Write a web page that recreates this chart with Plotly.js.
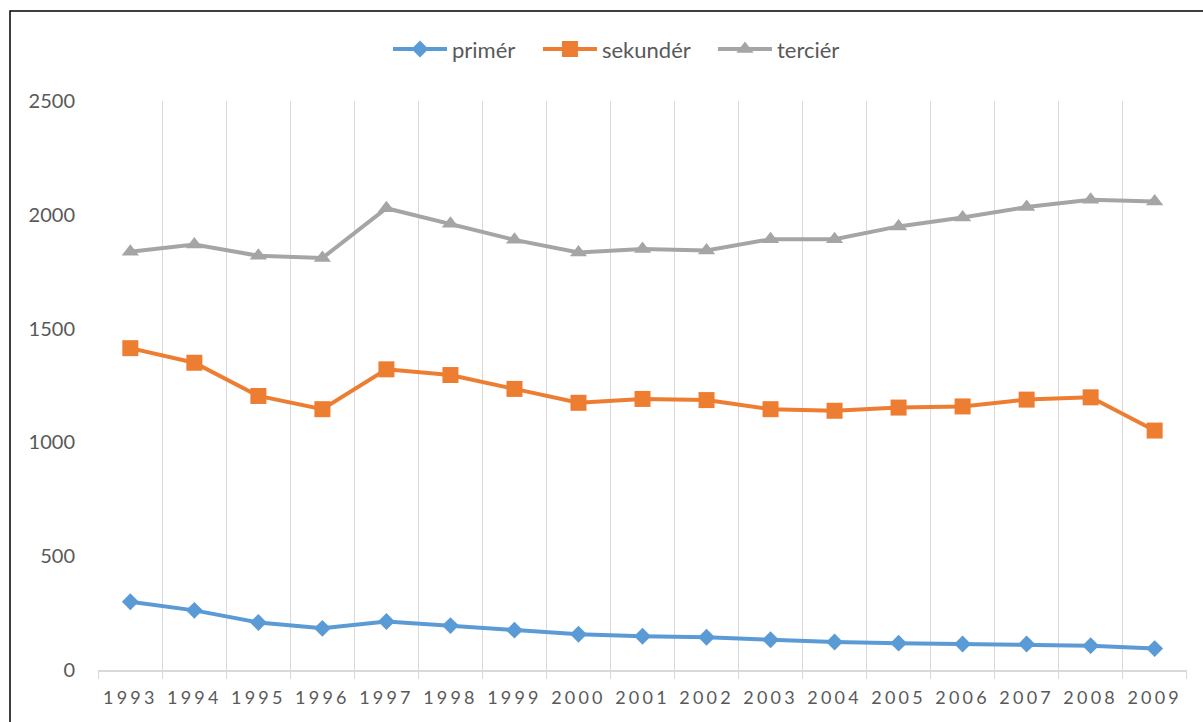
<!DOCTYPE html>
<html>
<head>
<meta charset="utf-8">
<script src="https://cdn.plot.ly/plotly-3.0.1.min.js"></script>
<style>
html,body{margin:0;padding:0;background:#fff;}
#chart{width:1203px;height:722px;}
.xtick text{letter-spacing:3.2px;}
</style>
</head>
<body>
<div id="chart"></div>
<script>
const years = ['1993','1994','1995','1996','1997','1998','1999','2000','2001','2002','2003','2004','2005','2006','2007','2008','2009'];
const primer = [300, 262, 209, 183, 213, 195, 175, 157, 148, 144, 133, 123, 118, 114, 114, 107, 94];
const sekunder = [1414, 1350, 1204, 1146, 1321, 1296, 1235, 1174, 1191, 1186, 1146, 1139, 1153, 1158, 1188, 1198, 1052];
const tercier = [1838, 1869, 1820, 1810, 2029, 1961, 1890, 1834, 1850, 1843, 1893, 1893, 1949, 1988, 2034, 2066, 2058];
const yTicks = [0, 500, 1000, 1500, 2000, 2500];

const font = 'Lato, "Open Sans", sans-serif';
const traces = [
  {name:'primér', x:years, y:primer, type:'scatter', mode:'lines+markers', legend:'legend',
   line:{color:'#5B9BD5', width:4}, marker:{symbol:'diamond', size:13, color:'#5B9BD5'}},
  {name:'sekundér', x:years, y:sekunder, type:'scatter', mode:'lines+markers', legend:'legend2',
   line:{color:'#ED7D31', width:4}, marker:{symbol:'square', size:16, color:'#ED7D31'}},
  {name:'terciér', x:years, y:tercier, type:'scatter', mode:'lines+markers', legend:'legend3',
   line:{color:'#A5A5A5', width:4}, marker:{symbol:'triangle-up', size:15, color:'#A5A5A5'}}
];
function leg(x){
  return {orientation:'h', x:x, xanchor:'left', y:1.091, yanchor:'middle',
          font:{size:22, color:'#595959'}, itemwidth:54, bgcolor:'rgba(0,0,0,0)'};
}
const layout = {
  width:1203, height:722,
  margin:{l:98, r:16, t:101, b:52},
  paper_bgcolor:'#fff', plot_bgcolor:'#fff',
  font:{family:font, color:'#595959'},
  showlegend:true,
  legend:leg(0.2663),
  legend2:leg(0.404),
  legend3:leg(0.5647),
  xaxis:{type:'category', range:[-0.505,16.505], tickson:'boundaries',
         showgrid:true, gridcolor:'#D9D9D9', gridwidth:1.5,
         showline:true, linecolor:'#D9D9D9', linewidth:1.5,
         ticks:'outside', ticklen:7, tickwidth:1.5, tickcolor:'#D9D9D9',
         ticklabelstandoff:11,
         tickfont:{size:18, color:'#595959', family:font}, fixedrange:true},
  yaxis:{range:[0,2500], tickvals:yTicks, ticktext:yTicks.map(String),
         showgrid:false, zeroline:false, showline:false, ticks:'',
         ticklabelstandoff:22,
         tickfont:{size:20, color:'#595959', family:font}, fixedrange:true},
  shapes:[
    {type:'rect', xref:'paper', yref:'paper', x0:-0.0808, x1:1.2, y0:-0.3, y1:1.1582,
     line:{color:'#000', width:1.5}, fillcolor:'rgba(0,0,0,0)', layer:'below'}
  ]
};
Plotly.newPlot('chart', traces, layout, {displayModeBar:false, staticPlot:true});
</script>
</body>
</html>
